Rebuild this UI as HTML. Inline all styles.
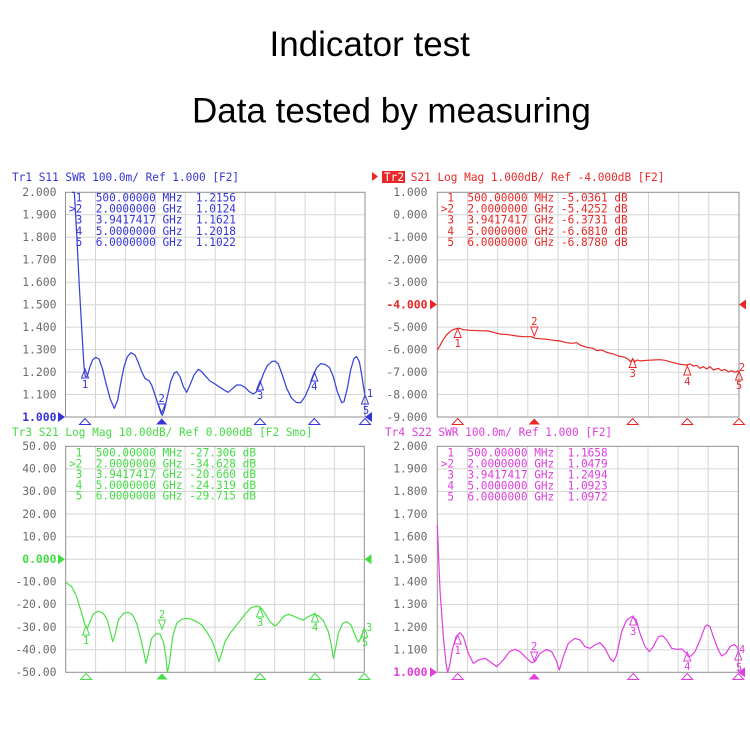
<!DOCTYPE html>
<html><head><meta charset="utf-8"><style>
html,body{margin:0;padding:0;background:#fff;}
svg{display:block;}
svg text{white-space:pre;}
.t{font-family:"DejaVu Sans Mono","Liberation Mono",monospace;font-size:11.1px;white-space:pre;}
.lb{font-family:"DejaVu Sans Mono","Liberation Mono",monospace;font-size:11.4px;fill:#6b6b6b;}
.mk{font-family:"DejaVu Sans Mono","Liberation Mono",monospace;font-size:10.5px;}
.g{stroke:#d6d6d6;stroke-width:1;fill:none;}
.bx{stroke:#8f8f8f;stroke-width:1;fill:none;}
</style></head><body>
<svg width="750" height="750" viewBox="0 0 750 750" xmlns="http://www.w3.org/2000/svg" xml:space="preserve">
<rect width="750" height="750" fill="#fff"/>
<text x="269.5" y="56" font-family="Liberation Sans, Arial, sans-serif" font-size="35" fill="#000">Indicator test</text>
<text x="192" y="122.5" font-family="Liberation Sans, Arial, sans-serif" font-size="35" fill="#000">Data tested by measuring</text>

<!-- ============ TL panel ============ -->
<g>
<path class="g" d="M95.5 192.3V417M125.4 192.3V417M155.4 192.3V417M185.3 192.3V417M215.3 192.3V417M245.2 192.3V417M275.2 192.3V417M305.1 192.3V417M335.1 192.3V417 M65.5 214.8H365M65.5 237.2H365M65.5 259.7H365M65.5 282.2H365M65.5 304.7H365M65.5 327.1H365M65.5 349.6H365M65.5 372.1H365M65.5 394.5H365"/>
<rect class="bx" x="65.5" y="192.3" width="299.5" height="224.7"/>
<g class="lb" text-anchor="end">
<text x="56.5" y="196">2.000</text><text x="56.5" y="218.5">1.900</text><text x="56.5" y="241">1.800</text><text x="56.5" y="263.5">1.700</text><text x="56.5" y="286">1.600</text><text x="56.5" y="308.5">1.500</text><text x="56.5" y="331">1.400</text><text x="56.5" y="353.5">1.300</text><text x="56.5" y="376">1.200</text><text x="56.5" y="398.5">1.100</text>
<text x="56.5" y="421" fill="#3535d8" font-weight="bold">1.000</text>
</g>
<text class="t" x="12" y="181" fill="#3535d0">Tr1 S11 SWR 100.0m/ Ref 1.000 [F2]</text>
<g class="t" fill="#3535d8">
<text x="69" y="201.3"> 1  500.00000 MHz  1.2156</text>
<text x="69" y="212.5">&gt;2  2.0000000 GHz  1.0124</text>
<text x="69" y="223.7"> 3  3.9417417 GHz  1.1621</text>
<text x="69" y="234.9"> 4  5.0000000 GHz  1.2018</text>
<text x="69" y="246.1"> 5  6.0000000 GHz  1.1022</text>
</g>
<polyline transform="translate(50,180) scale(0.33333)" fill="none" stroke="#3844d8" stroke-width="1.25" vector-effect="non-scaling-stroke" stroke-linejoin="round"
points="66,37 73,37 80,160 88,320 96,460 102,560 106,590 112,588 120,560 128,540 137,532 147,537 157,565 168,610 180,655 193,685 203,660 212,610 222,560 232,530 243,518 255,525 265,548 275,575 285,595 297,602 305,615 315,645 325,675 333,700 337,706 343,690 352,650 362,605 372,580 380,575 390,590 400,620 410,637 420,615 432,585 445,568 455,575 468,590 480,603 495,612 510,622 525,632 535,637 545,628 560,615 572,615 585,622 598,635 610,642 620,635 630,610 640,582 652,557 665,545 675,543 685,552 697,585 710,625 725,655 740,668 752,668 765,650 778,620 790,588 800,563 812,551 825,553 838,562 850,590 862,635 875,668 882,665 892,625 902,570 912,535 920,530 928,545 936,590 942,630 945,645"/>
<g fill="#3535d8">
<polygon points="58,412 58,422 65,417"/>
<polygon points="372,412 372,422 365,417"/>
<polygon points="161.7,418.5 156,424.5 167.4,424.5"/>
</g>
<g fill="none" stroke="#3535d8" stroke-width="1">
<polygon points="85,418.5 79.5,424.5 90.5,424.5"/>
<polygon points="260,418.5 254.5,424.5 265.5,424.5"/>
<polygon points="314.3,418.5 308.8,424.5 319.8,424.5"/>
<polygon points="365,418.5 359.5,424.5 370.5,424.5"/>
<polygon points="85,369 81.5,378 88.5,378"/>
<polygon points="161.7,413 158.2,404 165.2,404"/>
<polygon points="260,381 256.5,390 263.5,390"/>
<polygon points="314.3,372 310.8,381 317.8,381"/>
<polygon points="365,395 361.5,404 368.5,404"/>
</g>
<g class="mk" fill="#3535d8" text-anchor="middle">
<text x="85" y="388">1</text><text x="161.7" y="402">2</text><text x="260" y="399">3</text><text x="314.3" y="390">4</text><text x="366" y="414">5</text><text x="370" y="397">1</text>
</g>
</g>

<!-- ============ TR panel ============ -->
<g>
<path class="g" d="M467.5 192.3V417M497.6 192.3V417M527.8 192.3V417M558 192.3V417M588.2 192.3V417M618.3 192.3V417M648.5 192.3V417M678.7 192.3V417M708.8 192.3V417 M437.3 214.8H739M437.3 237.2H739M437.3 259.7H739M437.3 282.2H739M437.3 304.7H739M437.3 327.1H739M437.3 349.6H739M437.3 372.1H739M437.3 394.5H739"/>
<rect class="bx" x="437.3" y="192.3" width="301.7" height="224.7"/>
<g class="lb" text-anchor="end">
<text x="427.5" y="196">1.000</text><text x="427.5" y="218.5">0.000</text><text x="427.5" y="241">-1.000</text><text x="427.5" y="263.5">-2.000</text><text x="427.5" y="286">-3.000</text>
<text x="427.5" y="308.5" fill="#e82828" font-weight="bold">-4.000</text>
<text x="427.5" y="331">-5.000</text><text x="427.5" y="353.5">-6.000</text><text x="427.5" y="376">-7.000</text><text x="427.5" y="398.5">-8.000</text><text x="427.5" y="421">-9.000</text>
</g>
<polygon points="372,172 372,181 378,176.5" fill="#e82828"/>
<rect x="382" y="171" width="23" height="12" fill="#e82828"/>
<text class="t" x="384" y="181" fill="#e82828"><tspan fill="#fff">Tr2</tspan> S21 Log Mag 1.000dB/ Ref -4.000dB [F2]</text>
<g class="t" fill="#e82828">
<text x="440.7" y="201.3"> 1  500.00000 MHz -5.0361 dB</text>
<text x="440.7" y="212.5">&gt;2  2.0000000 GHz -5.4252 dB</text>
<text x="440.7" y="223.7"> 3  3.9417417 GHz -6.3731 dB</text>
<text x="440.7" y="234.9"> 4  5.0000000 GHz -6.6810 dB</text>
<text x="440.7" y="246.1"> 5  6.0000000 GHz -6.8780 dB</text>
</g>
<polyline transform="translate(420,180) scale(0.33333)" fill="none" stroke="#e82828" stroke-width="1.2" vector-effect="non-scaling-stroke" stroke-linejoin="round"
points="52,510 60,497 70,478 82,462 95,451 108,446 118,445 130,449 150,451 175,452 205,453 225,458 240,462 265,464 290,468 310,470 335,470 345,475 360,476 380,478 400,481 420,483 440,488 455,490 470,488 480,495 500,502 520,505 530,512 545,510 560,517 580,522 595,528 615,532 625,538 632,545 638,537 645,545 652,540 660,543 680,541 700,540 720,539 735,541 760,548 780,553 800,555 810,552 820,558 830,556 840,565 850,560 860,567 870,560 880,570 895,565 905,572 915,568 925,576 935,572 945,577 955,572"/>
<g fill="#e82828">
<polygon points="430,299.5 430,309.5 437,304.5"/>
<polygon points="746,299.5 746,309.5 739,304.5"/>
<polygon points="534.3,418.5 528.6,424.5 540,424.5"/>
</g>
<g fill="none" stroke="#e82828" stroke-width="1">
<polygon points="457.7,418.5 452.2,424.5 463.2,424.5"/>
<polygon points="632.7,418.5 627.2,424.5 638.2,424.5"/>
<polygon points="687.3,418.5 681.8,424.5 692.8,424.5"/>
<polygon points="739,418.5 733.5,424.5 744.5,424.5"/>
<polygon points="457.7,328.5 454.2,337.5 461.2,337.5"/>
<polygon points="534.3,336 530.8,327 537.8,327"/>
<polygon points="632.7,358.5 629.2,367.5 636.2,367.5"/>
<polygon points="687.3,366 683.8,375 690.8,375"/>
<polygon points="739,371 735.5,380 742.5,380"/>
</g>
<g class="mk" fill="#e82828" text-anchor="middle">
<text x="457.7" y="347">1</text><text x="534.3" y="325">2</text><text x="632.7" y="377">3</text><text x="687.3" y="385">4</text><text x="739" y="389">5</text><text x="742" y="371">2</text>
</g>
</g>

<!-- ============ BL panel ============ -->
<g>
<path class="g" d="M95.6 446.3V672.3M125.4 446.3V672.3M155.3 446.3V672.3M185.1 446.3V672.3M215 446.3V672.3M244.9 446.3V672.3M274.7 446.3V672.3M304.6 446.3V672.3M334.4 446.3V672.3 M65.7 468.9H364.3M65.7 491.5H364.3M65.7 514.1H364.3M65.7 536.7H364.3M65.7 559.3H364.3M65.7 581.9H364.3M65.7 604.5H364.3M65.7 627.1H364.3M65.7 649.7H364.3"/>
<rect class="bx" x="65.7" y="446.3" width="298.6" height="226"/>
<g class="lb" text-anchor="end">
<text x="56.5" y="450">50.00</text><text x="56.5" y="472.6">40.00</text><text x="56.5" y="495.2">30.00</text><text x="56.5" y="517.8">20.00</text><text x="56.5" y="540.4">10.00</text>
<text x="56.5" y="563" fill="#44dd44" font-weight="bold">0.000</text>
<text x="56.5" y="585.6">-10.00</text><text x="56.5" y="608.2">-20.00</text><text x="56.5" y="630.8">-30.00</text><text x="56.5" y="653.4">-40.00</text><text x="56.5" y="676">-50.00</text>
</g>
<text class="t" x="12" y="436" fill="#44dd44">Tr3 S21 Log Mag 10.00dB/ Ref 0.000dB [F2 Smo]</text>
<g class="t" fill="#44dd44">
<text x="69" y="456.5"> 1  500.00000 MHz -27.306 dB</text>
<text x="69" y="467.3">&gt;2  2.0000000 GHz -34.628 dB</text>
<text x="69" y="478.1"> 3  3.9417417 GHz -20.660 dB</text>
<text x="69" y="488.9"> 4  5.0000000 GHz -24.319 dB</text>
<text x="69" y="499.7"> 5  6.0000000 GHz -29.715 dB</text>
</g>
<polyline transform="translate(50,450) scale(0.33333)" fill="none" stroke="#4ae04a" stroke-width="1.2" vector-effect="non-scaling-stroke" stroke-linejoin="round"
points="47,397 65,410 80,440 95,490 105,525 112,535 120,515 130,492 145,483 160,490 172,510 182,550 188,575 195,555 205,510 220,490 235,487 248,495 260,520 272,565 282,610 288,640 295,610 305,565 318,550 330,553 340,575 348,620 352,668 358,640 368,560 380,520 395,508 410,505 425,508 440,515 455,525 470,545 485,570 498,605 507,635 515,610 525,575 540,550 560,525 580,500 600,475 618,468 630,470 645,490 660,515 675,528 685,520 700,500 715,493 730,498 745,505 760,510 775,500 790,493 805,497 820,512 835,545 845,590 850,625 856,600 865,550 878,520 890,515 903,525 915,555 925,577 935,560 940,540 943,535"/>
<g fill="#44dd44">
<polygon points="58,554.3 58,564.3 65,559.3"/>
<polygon points="371.5,554.3 371.5,564.3 364.5,559.3"/>
<polygon points="162,673.5 156.3,679.5 167.7,679.5"/>
</g>
<g fill="none" stroke="#44dd44" stroke-width="1">
<polygon points="86,673.5 80.5,679.5 91.5,679.5"/>
<polygon points="260,673.5 254.5,679.5 265.5,679.5"/>
<polygon points="315,673.5 309.5,679.5 320.5,679.5"/>
<polygon points="364.3,673.5 358.8,679.5 369.8,679.5"/>
<polygon points="86,626 82.5,635 89.5,635"/>
<polygon points="162,629 158.5,620 165.5,620"/>
<polygon points="260,608 256.5,617 263.5,617"/>
<polygon points="315,613 311.5,622 318.5,622"/>
<polygon points="364.3,628 360.8,637 367.8,637"/>
</g>
<g class="mk" fill="#44dd44" text-anchor="middle">
<text x="86" y="644">1</text><text x="162" y="618">2</text><text x="260" y="626">3</text><text x="315" y="631">4</text><text x="365" y="646">5</text><text x="369" y="631">3</text>
</g>
</g>

<!-- ============ BR panel ============ -->
<g>
<path class="g" d="M467.4 446.3V672.3M497.5 446.3V672.3M527.6 446.3V672.3M557.7 446.3V672.3M587.8 446.3V672.3M617.9 446.3V672.3M648 446.3V672.3M678.1 446.3V672.3M708.2 446.3V672.3 M437.3 468.9H738.3M437.3 491.5H738.3M437.3 514.1H738.3M437.3 536.7H738.3M437.3 559.3H738.3M437.3 581.9H738.3M437.3 604.5H738.3M437.3 627.1H738.3M437.3 649.7H738.3"/>
<rect class="bx" x="437.3" y="446.3" width="301" height="226"/>
<g class="lb" text-anchor="end">
<text x="427.5" y="450">2.000</text><text x="427.5" y="472.6">1.900</text><text x="427.5" y="495.2">1.800</text><text x="427.5" y="517.8">1.700</text><text x="427.5" y="540.4">1.600</text><text x="427.5" y="563">1.500</text><text x="427.5" y="585.6">1.400</text><text x="427.5" y="608.2">1.300</text><text x="427.5" y="630.8">1.200</text><text x="427.5" y="653.4">1.100</text>
<text x="427.5" y="676" fill="#e03ee0" font-weight="bold">1.000</text>
</g>
<text class="t" x="385" y="436" fill="#e03ee0">Tr4 S22 SWR 100.0m/ Ref 1.000 [F2]</text>
<g class="t" fill="#e03ee0">
<text x="440.7" y="456.5"> 1  500.00000 MHz  1.1658</text>
<text x="440.7" y="467.5">&gt;2  2.0000000 GHz  1.0479</text>
<text x="440.7" y="478.5"> 3  3.9417417 GHz  1.2494</text>
<text x="440.7" y="489.5"> 4  5.0000000 GHz  1.0923</text>
<text x="440.7" y="500.5"> 5  6.0000000 GHz  1.0972</text>
</g>
<polyline transform="translate(420,450) scale(0.33333)" fill="none" stroke="#e23ee2" stroke-width="1.2" vector-effect="non-scaling-stroke" stroke-linejoin="round"
points="52,225 55,300 60,420 70,560 78,640 83,667 88,650 97,600 108,560 120,548 130,560 145,610 160,640 175,630 195,625 210,635 230,650 250,630 268,605 285,598 300,605 320,625 335,638 345,635 360,610 380,598 395,605 408,630 418,660 430,620 445,580 465,565 480,570 495,590 510,595 525,585 540,578 555,595 570,625 580,635 590,615 605,545 620,510 635,500 648,508 660,550 675,590 688,605 700,590 715,560 728,557 740,570 755,595 770,598 785,597 795,605 805,620 815,617 825,605 840,570 855,530 862,525 870,530 880,560 895,600 905,618 918,610 930,590 942,583 950,590 955,600"/>
<g fill="#e03ee0">
<polygon points="430,667.3 430,677.3 437,672.3"/>
<polygon points="745,667.3 745,677.3 738,672.3"/>
<polygon points="534.2,673.5 528.5,679.5 539.9,679.5"/>
</g>
<g fill="none" stroke="#e03ee0" stroke-width="1">
<polygon points="457.7,673.5 452.2,679.5 463.2,679.5"/>
<polygon points="633.2,673.5 627.7,679.5 638.7,679.5"/>
<polygon points="687.3,673.5 681.8,679.5 692.8,679.5"/>
<polygon points="738.3,673.5 732.8,679.5 743.8,679.5"/>
<polygon points="457.7,635 454.2,644 461.2,644"/>
<polygon points="534.2,661 530.7,652 537.7,652"/>
<polygon points="633.2,616 629.7,625 636.7,625"/>
<polygon points="687.3,652 683.8,661 690.8,661"/>
<polygon points="738.3,651 734.8,660 741.8,660"/>
</g>
<g class="mk" fill="#e03ee0" text-anchor="middle">
<text x="457.7" y="654">1</text><text x="534.2" y="650">2</text><text x="633.2" y="635">3</text><text x="687.3" y="670">4</text><text x="739" y="671">5</text><text x="742" y="653">4</text>
</g>
</g>
</svg>
</body></html>
